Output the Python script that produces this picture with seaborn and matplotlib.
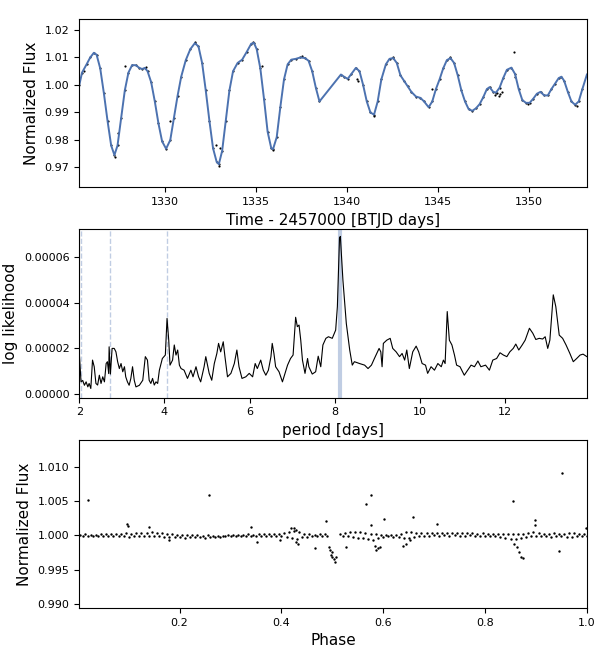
import numpy as np
import pandas as pd
import seaborn as sns
import matplotlib.pyplot as plt
from matplotlib.ticker import FormatStrFormatter

# ---- top panel: light curve (time in BTJD, model) ----
model_time = [
    1325.30, 1325.45, 1325.70, 1325.90, 1326.10, 1326.25, 1326.45, 1326.65, 1326.85, 1327.05,
    1327.23, 1327.40, 1327.60, 1327.80, 1328.00, 1328.20, 1328.40, 1328.60, 1328.75, 1328.90,
    1329.05, 1329.25, 1329.45, 1329.65, 1329.85, 1330.07, 1330.30, 1330.50, 1330.70, 1330.90,
    1331.15, 1331.40, 1331.65, 1331.85, 1332.05, 1332.25, 1332.45, 1332.65, 1332.85, 1332.97,
    1333.15, 1333.35, 1333.55, 1333.75, 1334.00, 1334.25, 1334.50, 1334.75, 1334.90, 1335.05,
    1335.25, 1335.45, 1335.65, 1335.85, 1335.95, 1336.15, 1336.35, 1336.55, 1336.75, 1336.95,
    1337.20, 1337.45, 1337.70, 1337.90, 1338.10, 1338.30, 1338.50,
    1339.68, 1339.85, 1340.05, 1340.25, 1340.50, 1340.70, 1340.90, 1341.10, 1341.30, 1341.50,
    1341.70, 1341.90, 1342.15, 1342.35, 1342.55, 1342.75, 1342.95, 1343.15, 1343.35, 1343.55,
    1343.80, 1344.05, 1344.25, 1344.50, 1344.70, 1344.90, 1345.10, 1345.30, 1345.50, 1345.70,
    1345.90, 1346.10, 1346.30, 1346.50, 1346.70, 1346.90, 1347.10, 1347.30, 1347.50, 1347.70,
    1347.85, 1348.05, 1348.20, 1348.40, 1348.60, 1348.80, 1349.05, 1349.25, 1349.45, 1349.65,
    1349.85, 1350.05, 1350.25, 1350.45, 1350.65, 1350.85, 1351.05, 1351.25, 1351.45, 1351.65,
    1351.80, 1351.95, 1352.15, 1352.35, 1352.55, 1352.75, 1352.95, 1353.20,
]
model_flux = [
    1.0000, 1.0045, 1.0075, 1.0100, 1.0117, 1.0110, 1.0060, 0.9970, 0.9870, 0.9780,
    0.9745, 0.9780, 0.9880, 0.9980, 1.0045, 1.0072, 1.0072, 1.0062, 1.0058, 1.0062,
    1.0050, 1.0010, 0.9940, 0.9860, 0.9795, 0.9768, 0.9800, 0.9880, 0.9960, 1.0030,
    1.0090, 1.0130, 1.0152, 1.0140, 1.0080, 0.9980, 0.9870, 0.9770, 0.9720, 0.9712,
    0.9760, 0.9870, 0.9980, 1.0050, 1.0080, 1.0092, 1.0120, 1.0150, 1.0153, 1.0130,
    1.0060, 0.9950, 0.9830, 0.9770, 0.9767, 0.9810, 0.9920, 1.0020, 1.0075, 1.0092,
    1.0095, 1.0100, 1.0098, 1.0088, 1.0050, 0.9990, 0.9940,
    1.0038, 1.0030, 1.0022, 1.0040, 1.0062, 1.0050, 1.0000, 0.9940, 0.9900, 0.9892,
    0.9940, 1.0020, 1.0075, 1.0095, 1.0098, 1.0080, 1.0035, 1.0015, 0.9995, 0.9975,
    0.9958, 0.9953, 0.9940, 0.9919, 0.9940, 0.9985, 1.0020, 1.0060, 1.0090, 1.0098,
    1.0080, 1.0035, 0.9980, 0.9940, 0.9912, 0.9906, 0.9915, 0.9930, 0.9955, 0.9985,
    0.9992, 0.9975, 0.9972, 0.9990, 1.0025, 1.0055, 1.0063, 1.0040, 0.9985, 0.9945,
    0.9935, 0.9935, 0.9950, 0.9968, 0.9975, 0.9962, 0.9962, 0.9985, 1.0005, 1.0025,
    1.0030, 1.0015, 0.9975, 0.9940, 0.9928, 0.9940, 0.9985, 1.0038,
]
# observed points that stand off the model
obs_time = [1325.55, 1327.25, 1327.45, 1327.82, 1328.95, 1330.31, 1331.65, 1332.82, 1332.97, 1333.05,
            1334.85, 1335.33, 1335.95, 1337.55, 1340.55, 1340.60, 1341.50, 1342.55, 1344.68, 1345.65,
            1348.15, 1348.25, 1348.35, 1348.45, 1348.55, 1349.19, 1349.25, 1349.95, 1352.65]
obs_flux = [1.0050, 0.9738, 0.9825, 1.0068, 1.0065, 0.9870, 1.0158, 0.9780, 0.9706, 0.9772,
            1.0156, 1.0068, 0.9762, 1.0104, 1.0020, 1.0015, 0.9888, 1.0102, 0.9985, 1.0102,
            0.9965, 0.9972, 0.9960, 0.9968, 0.9975, 1.0120, 1.0030, 0.9930, 0.9924]

# ---- middle panel: periodogram ----
period = [
    2.00, 2.04, 2.08, 2.12, 2.16, 2.20, 2.23, 2.27, 2.31, 2.35, 2.39, 2.43, 2.47, 2.51, 2.55,
    2.59, 2.63, 2.66, 2.69, 2.70, 2.73, 2.77, 2.82, 2.86, 2.90, 2.94, 2.98, 3.02, 3.06, 3.09,
    3.13, 3.17, 3.21, 3.25, 3.29, 3.33, 3.41, 3.49, 3.55, 3.60, 3.64, 3.68, 3.72, 3.76, 3.80,
    3.84, 3.88, 3.95, 4.02, 4.06, 4.10, 4.13, 4.19, 4.23, 4.27, 4.31, 4.35, 4.39, 4.46, 4.54,
    4.62, 4.67, 4.74, 4.80, 4.85, 4.93, 4.97, 5.05, 5.11, 5.17, 5.23, 5.27, 5.32, 5.38, 5.42,
    5.48, 5.56, 5.64, 5.70, 5.75, 5.82, 5.91, 5.99, 6.07, 6.13, 6.18, 6.26, 6.32, 6.38, 6.44,
    6.50, 6.53, 6.57, 6.61, 6.69, 6.77, 6.83, 6.89, 6.96, 7.02, 7.08, 7.12, 7.16, 7.20, 7.24,
    7.30, 7.36, 7.39, 7.47, 7.55, 7.61, 7.67, 7.72, 7.79, 7.85, 7.94, 8.02, 8.06, 8.11, 8.13,
    8.19, 8.27, 8.35, 8.41, 8.46, 8.58, 8.70, 8.78, 8.86, 8.93, 9.04, 9.08, 9.11, 9.14, 9.22,
    9.30, 9.36, 9.44, 9.52, 9.58, 9.64, 9.69, 9.75, 9.83, 9.91, 9.97, 10.05, 10.13, 10.18, 10.26,
    10.34, 10.42, 10.50, 10.55, 10.59, 10.64, 10.69, 10.75, 10.81, 10.86, 10.94, 11.04, 11.12, 11.20, 11.28,
    11.36, 11.43, 11.54, 11.63, 11.71, 11.80, 11.88, 11.96, 12.04, 12.11, 12.19, 12.25, 12.32, 12.40, 12.47,
    12.57, 12.65, 12.72, 12.80, 12.88, 12.94, 13.00, 13.05, 13.13, 13.19, 13.27, 13.35, 13.43, 13.52, 13.60,
    13.68, 13.76, 13.83, 13.92,
]
log_like = [
    1.78, 0.54, 0.60, 0.39, 0.54, 0.32, 0.47, 0.25, 1.49, 1.20, 0.47, 0.40, 0.83, 0.47, 0.76,
    0.54, 1.34, 1.42, 0.90, 2.07, 0.88, 2.00, 2.00, 1.85, 1.42, 1.12, 1.34, 0.98, 1.20, 0.76,
    0.54, 0.39, 0.69, 1.20, 0.61, 0.32, 0.39, 0.61, 1.64, 1.49, 0.61, 0.47, 0.69, 0.40, 0.54,
    0.47, 1.05, 1.56, 1.71, 3.31, 2.36, 1.27, 1.49, 2.15, 1.71, 1.93, 1.27, 1.12, 1.05, 0.69,
    1.05, 0.76, 1.20, 0.76, 0.54, 1.20, 1.64, 0.91, 0.61, 1.34, 1.78, 2.22, 1.85, 2.29, 1.64,
    0.76, 0.91, 1.34, 1.93, 1.20, 0.69, 0.76, 0.91, 0.76, 1.34, 1.12, 1.49, 1.05, 0.83, 1.05,
    1.64, 2.22, 1.78, 1.20, 0.98, 0.54, 0.91, 1.27, 1.56, 1.71, 3.36, 2.95, 3.02, 2.36, 1.49,
    0.91, 1.56, 1.20, 0.88, 0.98, 1.66, 1.20, 2.15, 2.44, 2.51, 2.44, 2.80, 3.82, 6.82, 6.89,
    4.99, 3.09, 1.93, 1.27, 1.42, 1.34, 1.27, 1.12, 1.27, 1.56, 2.00, 1.85, 1.20, 2.22, 2.36,
    2.44, 2.00, 1.85, 1.64, 1.78, 1.49, 1.93, 1.12, 1.85, 2.10, 1.85, 1.34, 1.27, 0.91, 1.20,
    1.05, 1.34, 1.20, 1.49, 1.34, 3.61, 2.36, 2.15, 1.71, 1.27, 1.20, 0.83, 1.05, 1.27, 1.20,
    1.45, 1.20, 1.27, 1.05, 1.49, 1.56, 1.81, 1.71, 1.64, 1.85, 2.00, 2.19, 1.93, 2.15, 2.36,
    2.88, 2.66, 2.39, 2.44, 2.41, 2.51, 2.00, 2.36, 4.34, 3.82, 2.58, 2.44, 2.15, 1.78, 1.42,
    1.56, 1.71, 1.75, 1.64,
]
best_period = 8.13

# ---- bottom panel: folded light curve (flux deviations in units of 1e-5) ----
band_upper = [
    10, 12, 8, 10, 15, 25, 20, 15, 20, 30,
    25, 30, 35, 40, 45, 40, 30, 20, 15, 10,
    5, 0, 5, 0, -5, 0, -5, -10, -5, 0,
    5, 10, 10, 15, 10, 15, 20, 15, 20, 25,
    30, 55, 65, 45, 25, 15, 10, 15, 20, np.nan,
    np.nan, 20, 35, 45, 50, 55, 40, 25, 15, 10,
    5, 0, 10, 25, 45, 50, 40, 35, 30, 30,
    30, 30, 35, 30, 30, 35, 30, 30, 25, 30,
    25, 25, 20, 25, 20, 15, 20, 20, 35, 45,
    30, 25, 25, 30, 20, 25, 30, 35, 20, 15,
]
band_lower = [
    -5, -10, -5, -10, -15, -10, -5, -10, -15, -20,
    -15, -10, -5, -5, -10, -15, -20, -30, -25, -30,
    -35, -30, -25, -30, -35, -30, -25, -20, -15, -10,
    -10, -5, -10, -5, -10, -15, -10, -5, -10, -15,
    -20, -35, -55, -30, -20, -15, -10, -5, -10, np.nan,
    np.nan, -10, -15, -25, -35, -45, -60, -70, -45, -25,
    -15, -20, -30, -40, -45, -25, -10, -5, -5, 0,
    -5, 0, -5, 0, -5, -5, 0, -5, -10, -5,
    -10, -15, -25, -35, -50, -60, -40, -20, -10, -5,
    -10, -15, -20, -10, -15, -25, -20, -10, -5, -5,
]
extra_phase = [0.021, 0.258, 0.096, 0.098, 0.140, 0.180, 0.341, 0.352, 0.398, 0.466,
               0.487, 0.4935, 0.495, 0.497, 0.499, 0.500, 0.503, 0.505, 0.507, 0.526,
               0.418, 0.424, 0.428, 0.429, 0.433, 0.567, 0.576, 0.575, 0.584, 0.586,
               0.589, 0.593, 0.601, 0.638, 0.645, 0.652, 0.659, 0.705, 0.855, 0.857,
               0.863, 0.867, 0.871, 0.875, 0.898, 0.899, 0.945, 0.951, 0.998]
extra_flux = [1.0052, 1.0059, 1.0017, 1.0013, 1.0012, 0.9993, 1.0012, 0.9990, 0.9993, 0.9982,
              1.0021, 0.9983, 0.9979, 0.9972, 0.9976, 0.9968, 0.9966, 0.9961, 0.9969, 0.9983,
              1.0010, 1.0011, 1.0007, 0.9990, 0.9988, 1.0046, 1.0058, 1.0015, 0.9985, 0.9978,
              0.9981, 0.9983, 1.0023, 0.9985, 0.9988, 0.9993, 1.0026, 1.0016, 1.0050, 0.9988,
              0.9983, 0.9976, 0.9969, 0.9967, 1.0022, 1.0015, 0.9977, 1.0090, 1.0011]

# assemble tables
lc_model = pd.DataFrame({"time": model_time, "flux": model_flux})
lc_obs = pd.DataFrame({"time": model_time + obs_time, "flux": model_flux + obs_flux})
pgram = pd.DataFrame({"period": period, "ll": np.array(log_like) * 1e-5})

phase_upper = np.round(np.arange(100) * 0.01 + 0.005, 3)
phase_lower = np.round(np.arange(1, 101) * 0.01, 3)
folded = pd.DataFrame({
    "phase": np.concatenate([phase_upper, phase_lower, extra_phase]),
    "flux": np.concatenate([1 + np.array(band_upper) * 1e-5,
                            1 + np.array(band_lower) * 1e-5, extra_flux]),
}).dropna()

sns.set_palette("deep")
fig, axes = plt.subplots(3, 1, figsize=(6.12, 6.54), dpi=100)
fig.subplots_adjust(left=0.1296, right=0.959, top=0.971, bottom=0.0703, hspace=0.25)
label_size = 11
tick_size = 8

# light curve
ax = axes[0]
sns.scatterplot(data=lc_obs, x="time", y="flux", color="k", s=2.5, linewidth=0, ax=ax)
sns.lineplot(data=lc_model, x="time", y="flux", color="C0", lw=1.4, estimator=None, sort=False, ax=ax)
ax.set_xlim(1325.3, 1353.2)
ax.set_ylim(0.9628, 1.0240)
ax.set_xlabel("Time - 2457000 [BTJD days]", fontsize=label_size)
ax.set_ylabel("Normalized Flux", fontsize=label_size)

# periodogram
ax = axes[1]
ax.axvline(best_period, color="C0", lw=3, alpha=0.35)
for n in range(2, 5):
    ax.axvline(best_period / n, color="C0", lw=1, alpha=0.35, linestyle="dashed")
sns.lineplot(data=pgram, x="period", y="ll", color="k", lw=0.8, estimator=None, sort=False, ax=ax)
ax.set_xlim(2.0, 13.92)
ax.set_ylim(-1.5e-6, 7.2e-5)
ax.yaxis.set_major_formatter(FormatStrFormatter("%.5f"))
ax.set_xlabel("period [days]", fontsize=label_size)
ax.set_ylabel("log likelihood", fontsize=label_size)

# folded
ax = axes[2]
sns.scatterplot(data=folded, x="phase", y="flux", color="k", s=3, linewidth=0, ax=ax)
ax.set_xlim(0.003, 1.0)
ax.set_ylim(0.98942, 1.0139)
ax.set_xlabel("Phase", fontsize=label_size)
ax.set_ylabel("Normalized Flux", fontsize=label_size)

for ax in axes:
    ax.tick_params(labelsize=tick_size)

plt.savefig("out.png", dpi=100)
